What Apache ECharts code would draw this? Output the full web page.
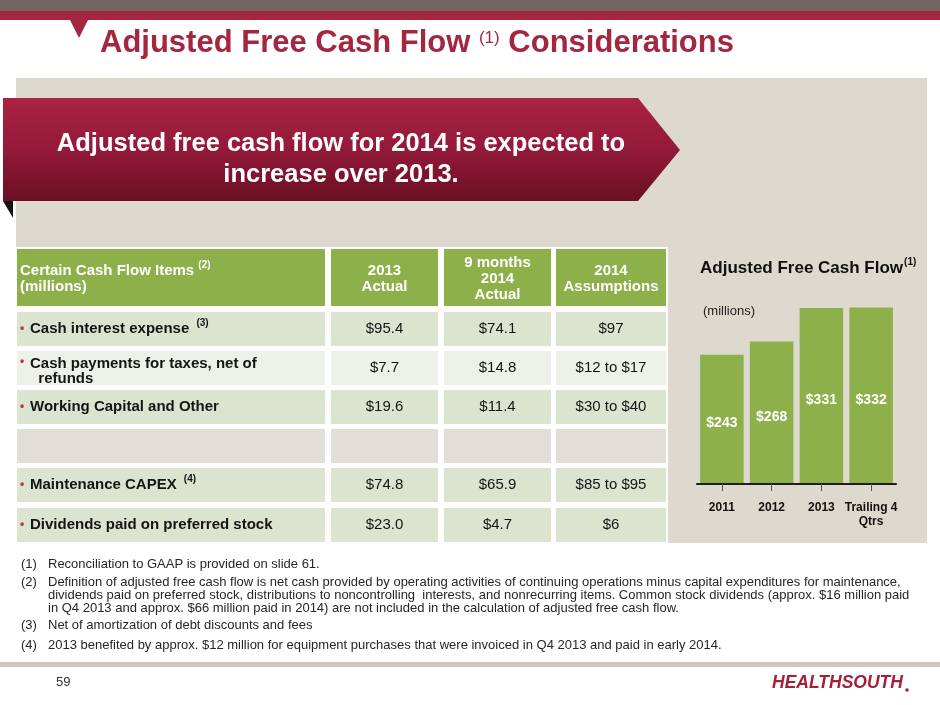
<!DOCTYPE html>
<html>
<head>
<meta charset="utf-8">
<title>Adjusted Free Cash Flow Considerations</title>
<script src="https://cdn.jsdelivr.net/npm/echarts@6/dist/echarts.min.js"></script>
<style>
  html, body { margin: 0; padding: 0; background: #fff; }
  #main { width: 940px; height: 705px; }
</style>
</head>
<body>
<div id="main"></div>
<script>
// bar chart data (millions)
var years = ['2011', '2012', '2013', 'Trailing 4\nQtrs'];
var afcf = [243, 268, 331, 332];

// table data
var colHeads = ['2013\nActual', '9 months\n2014\nActual', '2014\nAssumptions'];
var rowItems = ['Cash interest expense', 'Cash payments for taxes, net of\n  refunds',
                'Working Capital and Other', '', 'Maintenance CAPEX',
                'Dividends paid on preferred stock'];
var rowNotes = ['(3)', '', '', '', '(4)', ''];
var actual2013 = ['$95.4', '$7.7', '$19.6', '', '$74.8', '$23.0'];
var nineMonths2014 = ['$74.1', '$14.8', '$11.4', '', '$65.9', '$4.7'];
var assumptions2014 = ['$97', '$12 to $17', '$30 to $40', '', '$85 to $95', '$6'];

// footnotes
var noteNums = ['(1)', '(2)', '', '', '(3)', '(4)'];
var noteLines = [
  'Reconciliation to GAAP is provided on slide 61.',
  'Definition of adjusted free cash flow is net cash provided by operating activities of continuing operations minus capital expenditures for maintenance,',
  'dividends paid on preferred stock, distributions to noncontrolling  interests, and nonrecurring items. Common stock dividends (approx. $16 million paid',
  'in Q4 2013 and approx. $66 million paid in 2014) are not included in the calculation of adjusted free cash flow.',
  'Net of amortization of debt discounts and fees',
  '2013 benefited by approx. $12 million for equipment purchases that were invoiced in Q4 2013 and paid in early 2014.'
];

var FONT = '"Liberation Sans", Arial, Helvetica, sans-serif';
var CRIMSON = '#a4263f';
var GREEN = '#8db04a';

var mctx = document.createElement('canvas').getContext('2d');
function textW(s, font) { mctx.font = font; return mctx.measureText(s).width; }
function f(size, weight, style) {
  return (style || '') + ' ' + (weight || 'normal') + ' ' + size + 'px ' + FONT;
}

var g = [];
function rect(x, y, w, h, fill) {
  g.push({ type: 'rect', silent: true, z: -10, shape: { x: x, y: y, width: w, height: h }, style: { fill: fill } });
}
function poly(points, fill) {
  g.push({ type: 'polygon', silent: true, z: -10, shape: { points: points }, style: { fill: fill } });
}
function text(x, y, s, font, fill, align, lh) {
  g.push({
    type: 'text', silent: true, z: 5, x: x, y: y,
    style: { text: s, font: font, fill: fill, textAlign: align || 'left', align: align || 'left',
             textVerticalAlign: 'middle', verticalAlign: 'middle', lineHeight: lh }
  });
}

// top bands and title
rect(0, 0, 940, 11, '#736560');
rect(0, 11, 940, 9, CRIMSON);
poly([[70, 20], [88, 20], [79, 38]], CRIMSON);
var tFont = f(31, 'bold');
var t1 = 'Adjusted Free Cash Flow ';
text(100, 43, t1, tFont, CRIMSON);
var supX = 100 + textW(t1, tFont);
text(supX, 38, '(1)', f(17), CRIMSON);
text(supX + textW('(1)', f(17)), 43, ' Considerations', tFont, CRIMSON);

// beige panel
rect(16, 78, 911, 465, '#ddd9cf');

// banner
g.push({
  type: 'polygon', silent: true, z: -5,
  shape: { points: [[3, 98], [638, 98], [680, 150], [638, 201], [3, 201]] },
  style: { fill: new echarts.graphic.LinearGradient(0, 0, 0, 1, [
    { offset: 0, color: '#ab2343' }, { offset: 0.5, color: '#93193a' }, { offset: 1, color: '#6a0f24' }]) }
});
g.push({ type: 'polygon', silent: true, z: -5, shape: { points: [[3, 201], [13, 201], [13, 218]] }, style: { fill: '#141414' } });
text(341, 159, 'Adjusted free cash flow for 2014 is expected to\nincrease over 2013.', f(25.5, 'bold'), '#fff', 'center', 31);

// table
var colX = [17, 331, 444, 556], colW = [308, 107, 107, 110];
var rowY = [312, 351, 390, 429, 468, 508], rowH = 34;
var rowFill = ['#dbe4cf', '#eef1e7', '#dbe4cf', '#e1ded7', '#dbe4cf', '#dbe4cf'];
rect(16, 247, 652, 296, '#fff');
for (var c = 0; c < 4; c++) rect(colX[c], 249, colW[c], 57, GREEN);
var hFont = f(15, 'bold');
var h1 = 'Certain Cash Flow Items ';
text(20, 279, h1 + '\n(millions)', hFont, '#fff', 'left', 16);
text(20 + textW(h1, hFont), 265, '(2)', f(10, 'bold'), '#fff');
for (var c = 0; c < 3; c++) {
  text(colX[c + 1] + colW[c + 1] / 2, 279, colHeads[c], hFont, '#fff', 'center', 16);
}
var cols = [actual2013, nineMonths2014, assumptions2014];
for (var r = 0; r < rowItems.length; r++) {
  var cy = rowY[r] + rowH / 2;
  for (var c = 0; c < 4; c++) rect(colX[c], rowY[r], colW[c], rowH, rowFill[r]);
  if (!rowItems[r]) continue;
  var lines = rowItems[r].split('\n').length;
  text(20, cy - (lines - 1) * 6, '\u2022', f(12, 'bold'), '#b03a52');
  text(30, cy + (r === 1 ? 3 : 0), rowItems[r], hFont, '#151515', 'left', 15);
  if (rowNotes[r]) {
    text(33 + textW(rowItems[r] + ' ', hFont), cy - 6, rowNotes[r], f(10, 'bold'), '#151515');
  }
  for (var c = 0; c < 3; c++) {
    text(colX[c + 1] + colW[c + 1] / 2, cy, cols[c][r], f(15), '#151515', 'center');
  }
}

// bar chart title
var cFont = f(17, 'bold');
var ct = 'Adjusted Free Cash Flow';
text(700, 268, ct, cFont, '#111');
text(700 + textW(ct, cFont) + 1, 262, '(1)', f(10, 'bold'), '#111');
text(703, 311, '(millions)', f(13), '#222');

// footnotes
var noteY = [564, 582, 595, 608, 625, 645];
for (var i = 0; i < noteLines.length; i++) {
  if (noteNums[i]) text(21, noteY[i], noteNums[i], f(13), '#262626');
  text(48, noteY[i], noteLines[i], f(13), '#262626');
}

// footer
rect(0, 662, 940, 5, '#cfc8ba');
text(56, 682, '59', f(13), '#333');
text(772, 683, 'HEALTHSOUTH', f(17.5, 'bold', 'italic'), '#a3203a');
g.push({ type: 'circle', silent: true, shape: { cx: 907, cy: 690, r: 1.8 }, style: { fill: '#a3203a' } });

var myChart = echarts.init(document.getElementById('main'));
myChart.setOption({
  animation: false,
  textStyle: { fontFamily: FONT },
  graphic: { elements: g },
  grid: { left: 697, top: 298, width: 199, height: 186 },
  xAxis: {
    type: 'category',
    data: years,
    z: 5,
    axisLine: { show: true, lineStyle: { color: '#1e1e1e', width: 2 } },
    axisTick: { show: true, alignWithLabel: true, length: 7, lineStyle: { color: '#555', width: 1 } },
    axisLabel: { interval: 0, color: '#111', fontWeight: 'bold', fontSize: 12, lineHeight: 14, margin: 17 }
  },
  yAxis: { type: 'value', min: 0, max: 350, show: false },
  series: [{
    type: 'bar',
    data: afcf,
    barCategoryGap: '12.5%',
    silent: true,
    itemStyle: { color: GREEN },
    label: {
      show: true, position: 'inside', offset: [0, 4],
      formatter: function (p) { return '$' + p.value; },
      color: '#fff', fontWeight: 'bold', fontSize: 14
    }
  }]
});
</script>
</body>
</html>
